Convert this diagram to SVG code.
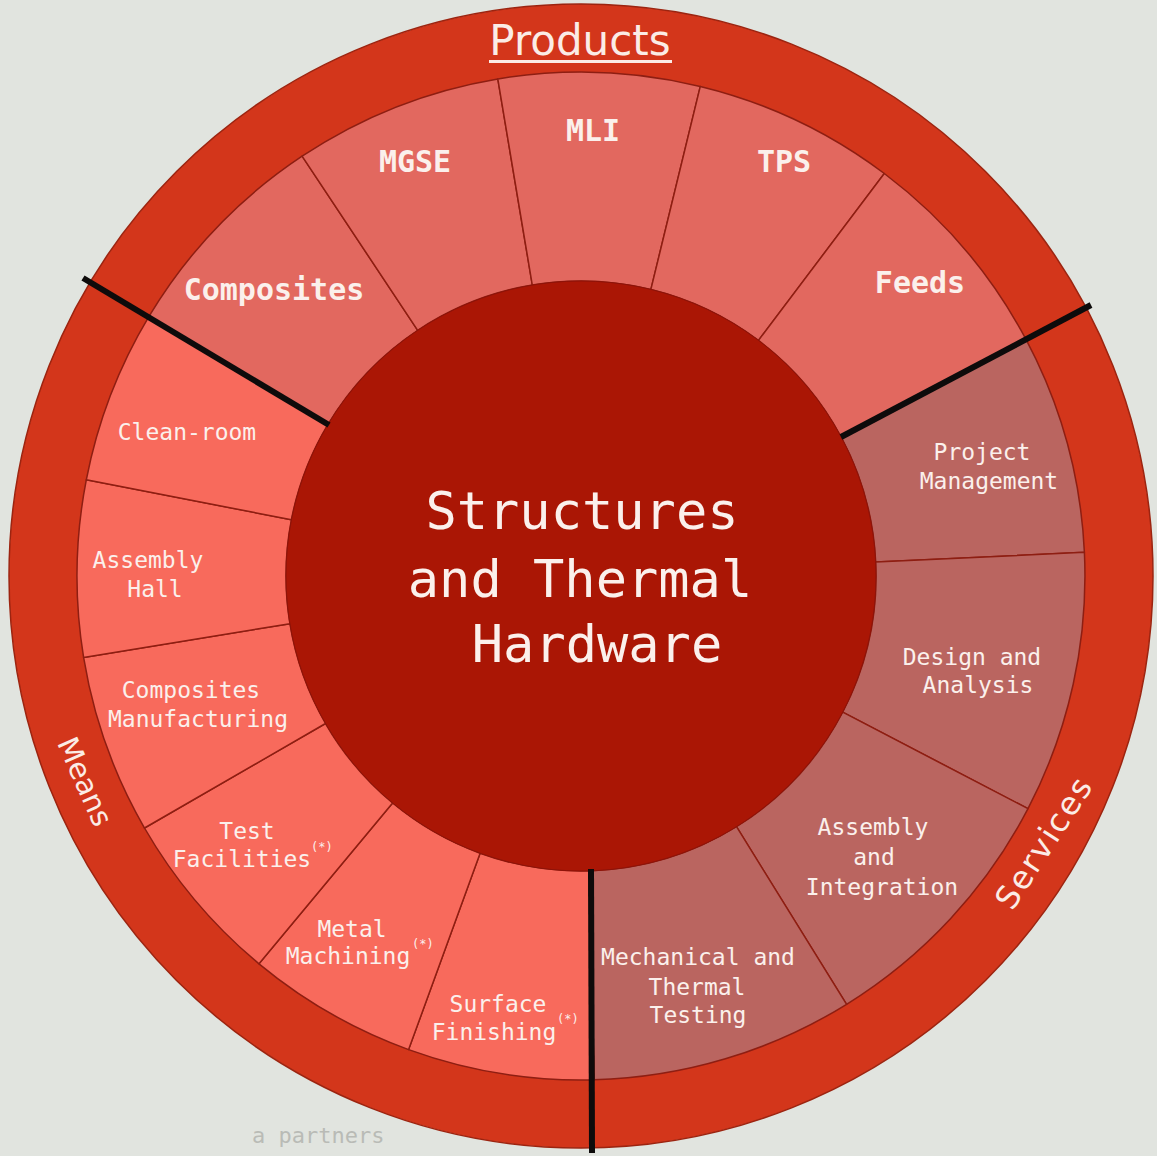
<svg xmlns="http://www.w3.org/2000/svg" width="1157" height="1156" viewBox="0 0 1157 1156">
  <style>
    .bg { fill: #e1e4df; }
    .ring { fill: #d3361b; stroke: #9c2410; stroke-width: 1.5; }
    .seg { stroke: #8e1e12; stroke-width: 1.5; stroke-linejoin: round; }
    .prod { fill: #e2685f; }
    .mean { fill: #f86a5c; }
    .serv { fill: #ba6560; }
    .core { fill: #aa1605; stroke: #8e1208; stroke-width: 1; }
    .sep { stroke: #0e0b0b; stroke-width: 6; fill: none; }
    .lbl { font-family: "DejaVu Sans Mono", "Liberation Mono", monospace; fill: #fbf0ec; text-anchor: middle; }
    .l30 { font-size: 30px; font-weight: bold; }
    .l23 { font-size: 23px; }
    .l52 { font-size: 52px; }
    .sup { font-family: "DejaVu Sans Mono", "Liberation Mono", monospace; fill: #fbf0ec; font-size: 12px; }
    .ring-lbl { font-family: "DejaVu Sans", "Liberation Sans", sans-serif; fill: #fbece6; text-anchor: middle; }
    .note { font-family: "DejaVu Sans Mono", "Liberation Mono", monospace; fill: #b9bbb6; font-size: 22px; }
  </style>

  <rect class="bg" x="0" y="0" width="1157" height="1156"/>

  <!-- outer band with the three group titles -->
  <g id="outer-ring">
    <circle class="ring" cx="581" cy="576" r="572"/>
  </g>

  <!-- Products -->
  <g id="node-composites">
    <path class="seg prod" d="M149.0,316.4 A504,504 0 0 1 302.1,156.2 L417.7,330.3 A295,295 0 0 0 328.1,424.1 Z"/>
    <text class="lbl l30" x="274" y="300">Composites</text>
  </g>
  <g id="node-mgse">
    <path class="seg prod" d="M302.1,156.2 A504,504 0 0 1 497.8,78.9 L532.3,285.0 A295,295 0 0 0 417.7,330.3 Z"/>
    <text class="lbl l30" x="415" y="172">MGSE</text>
  </g>
  <g id="node-mli">
    <path class="seg prod" d="M497.8,78.9 A504,504 0 0 1 700.3,86.4 L650.9,289.4 A295,295 0 0 0 532.3,285.0 Z"/>
    <text class="lbl l30" x="593" y="141">MLI</text>
  </g>
  <g id="node-tps">
    <path class="seg prod" d="M700.3,86.4 A504,504 0 0 1 884.3,173.5 L758.5,340.4 A295,295 0 0 0 650.9,289.4 Z"/>
    <text class="lbl l30" x="784" y="172">TPS</text>
  </g>
  <g id="node-feeds">
    <path class="seg prod" d="M884.3,173.5 A504,504 0 0 1 1026.0,339.4 L841.5,437.5 A295,295 0 0 0 758.5,340.4 Z"/>
    <text class="lbl l30" x="920" y="293">Feeds</text>
  </g>

  <!-- Services -->
  <g id="node-project-management">
    <path class="seg serv" d="M1026.0,339.4 A504,504 0 0 1 1084.4,552.3 L875.7,562.1 A295,295 0 0 0 841.5,437.5 Z"/>
    <text class="lbl l23" x="982" y="460">Project</text>
    <text class="lbl l23" x="989" y="489">Management</text>
  </g>
  <g id="node-design-analysis">
    <path class="seg serv" d="M1084.4,552.3 A504,504 0 0 1 1028.0,808.7 L842.7,712.2 A295,295 0 0 0 875.7,562.1 Z"/>
    <text class="lbl l23" x="972" y="665">Design and</text>
    <text class="lbl l23" x="978" y="693">Analysis</text>
  </g>
  <g id="node-assembly-integration">
    <path class="seg serv" d="M1028.0,808.7 A504,504 0 0 1 846.6,1004.3 L736.5,826.7 A295,295 0 0 0 842.7,712.2 Z"/>
    <text class="lbl l23" x="873" y="835">Assembly</text>
    <text class="lbl l23" x="874" y="865">and</text>
    <text class="lbl l23" x="882" y="895">Integration</text>
  </g>
  <g id="node-mech-thermal-testing">
    <path class="seg serv" d="M846.6,1004.3 A504,504 0 0 1 594.2,1079.8 L588.7,870.9 A295,295 0 0 0 736.5,826.7 Z"/>
    <text class="lbl l23" x="698" y="965">Mechanical and</text>
    <text class="lbl l23" x="697" y="995">Thermal</text>
    <text class="lbl l23" x="698" y="1023">Testing</text>
  </g>

  <!-- Means -->
  <g id="node-surface-finishing">
    <path class="seg mean" d="M594.2,1079.8 A504,504 0 0 1 408.6,1049.6 L480.1,853.2 A295,295 0 0 0 588.7,870.9 Z"/>
    <text class="lbl l23" x="498" y="1012">Surface</text>
    <text class="lbl l23" x="494" y="1040">Finishing</text>
    <text class="sup" x="557" y="1023">(*)</text>
  </g>
  <g id="node-metal-machining">
    <path class="seg mean" d="M408.6,1049.6 A504,504 0 0 1 259.0,963.8 L392.6,803.0 A295,295 0 0 0 480.1,853.2 Z"/>
    <text class="lbl l23" x="352" y="937">Metal</text>
    <text class="lbl l23" x="348" y="964">Machining</text>
    <text class="sup" x="412" y="948">(*)</text>
  </g>
  <g id="node-test-facilities">
    <path class="seg mean" d="M259.0,963.8 A504,504 0 0 1 144.5,828.0 L325.5,723.5 A295,295 0 0 0 392.6,803.0 Z"/>
    <text class="lbl l23" x="247" y="839">Test</text>
    <text class="lbl l23" x="242" y="867">Facilities</text>
    <text class="sup" x="311" y="851">(*)</text>
  </g>
  <g id="node-composites-manufacturing">
    <path class="seg mean" d="M144.5,828.0 A504,504 0 0 1 83.6,657.4 L289.9,623.7 A295,295 0 0 0 325.5,723.5 Z"/>
    <text class="lbl l23" x="191" y="698">Composites</text>
    <text class="lbl l23" x="198" y="727">Manufacturing</text>
  </g>
  <g id="node-assembly-hall">
    <path class="seg mean" d="M83.6,657.4 A504,504 0 0 1 86.3,479.8 L291.4,519.7 A295,295 0 0 0 289.9,623.7 Z"/>
    <text class="lbl l23" x="148" y="568">Assembly</text>
    <text class="lbl l23" x="155" y="597">Hall</text>
  </g>
  <g id="node-clean-room">
    <path class="seg mean" d="M86.3,479.8 A504,504 0 0 1 149.0,316.4 L328.1,424.1 A295,295 0 0 0 291.4,519.7 Z"/>
    <text class="lbl l23" x="187" y="440">Clean-room</text>
  </g>

  <!-- hub -->
  <g id="node-core">
    <circle class="core" cx="581" cy="576" r="295"/>
    <text class="lbl l52" x="582" y="529">Structures</text>
    <text class="lbl l52" x="580" y="597">and Thermal</text>
    <text class="lbl l52" x="597" y="662">Hardware</text>
  </g>

  <!-- heavy separators between the three groups -->
  <g id="connectors">
    <line class="sep" x1="83" y1="278" x2="329" y2="425"/>
    <line class="sep" x1="1091" y1="305" x2="841" y2="437"/>
    <line class="sep" x1="591" y1="869" x2="592" y2="1153"/>
  </g>

  <!-- group titles on the outer band -->
  <g id="title-products">
    <text class="ring-lbl" x="580" y="55" font-size="42">Products</text>
    <rect x="489" y="60" width="183" height="3" fill="#fbece6"/>
  </g>
  <g id="title-means">
    <text class="ring-lbl" font-size="29" transform="translate(84,782) rotate(66)" x="0" y="9">Means</text>
  </g>
  <g id="title-services">
    <text class="ring-lbl" font-size="32" letter-spacing="2" transform="translate(1045,843) rotate(-57)" x="0" y="10">Services</text>
  </g>

  <text class="note" x="252" y="1143">a partners</text>
</svg>
